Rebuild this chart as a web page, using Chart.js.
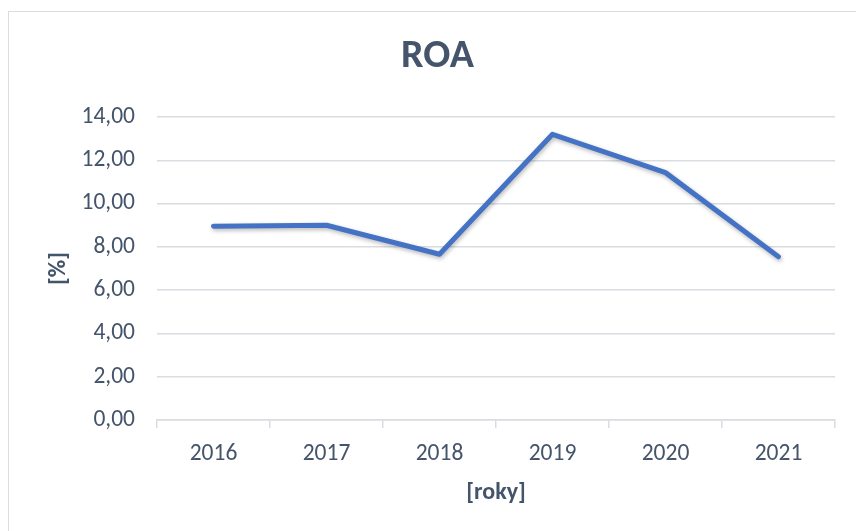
<!DOCTYPE html>
<html>
<head>
<meta charset="utf-8">
<script src="https://cdn.jsdelivr.net/npm/chart.js@4/dist/chart.umd.min.js"></script>
<style>
  html, body { margin: 0; padding: 0; background: #fff; }
  #wrap { position: relative; width: 856px; height: 531px; overflow: hidden; }
  #frame { position: absolute; left: 8px; top: 11px; width: 900px; height: 600px; border: 1.5px solid #D9DCE1; box-sizing: border-box; }
  canvas { position: absolute; left: 0; top: 0; }
</style>
</head>
<body>
<div id="wrap">
  <div id="frame"></div>
  <canvas id="c" width="856" height="531"></canvas>
</div>
<script>
const categories = ['2016', '2017', '2018', '2019', '2020', '2021'];
const roaValues = [8.95, 9.00, 7.66, 13.20, 11.43, 7.54];
const chartTitle = 'ROA';
const xAxisTitle = '[roky]';
const yAxisTitle = '[%]';

const FONT = "Carlito, Calibri, 'Open Sans', sans-serif";
const TEXT = '#44546A';
const GRID = '#D9DCE1';

const shadowPlugin = {
  id: 'lineShadow',
  beforeDatasetsDraw(chart) {
    const ctx = chart.ctx;
    ctx.save();
    ctx.shadowColor = 'rgba(0,0,0,0.28)';
    ctx.shadowBlur = 4;
    ctx.shadowOffsetX = 1;
    ctx.shadowOffsetY = 2;
  },
  afterDatasetsDraw(chart) {
    chart.ctx.restore();
  }
};

new Chart(document.getElementById('c'), {
  type: 'line',
  data: {
    labels: categories,
    datasets: [{
      data: roaValues,
      borderColor: '#4472C4',
      borderWidth: 5,
      borderCapStyle: 'round',
      borderJoinStyle: 'round',
      pointRadius: 0,
      pointHoverRadius: 0,
      tension: 0,
      fill: false
    }]
  },
  options: {
    responsive: false,
    animation: false,
    devicePixelRatio: 1,
    layout: { padding: { left: 40, right: 21, top: 0, bottom: 19.6 } },
    plugins: {
      legend: { display: false },
      tooltip: { enabled: false },
      title: {
        display: true,
        text: chartTitle,
        color: TEXT,
        font: { family: FONT, size: 40, weight: 'bold' },
        padding: { top: 33, bottom: 36 }
      }
    },
    scales: {
      x: {
        offset: true,
        grid: { drawOnChartArea: false, drawTicks: true, tickLength: 8, color: GRID, offset: true, lineWidth: 1.5 },
        border: { display: true, color: GRID, width: 1.5 },
        ticks: { color: TEXT, font: { family: FONT, size: 23.5 }, padding: 12, maxRotation: 0 },
        title: { display: true, text: xAxisTitle, color: TEXT, font: { family: FONT, size: 24, weight: 'bold' }, padding: { top: 4, bottom: 4 } },
        afterFit(scale) { scale.height = 91.4; }
      },
      y: {
        min: 0,
        max: 14,
        ticks: {
          stepSize: 2,
          color: TEXT,
          font: { family: FONT, size: 23.5 },
          padding: 22,
          callback: (v) => Number(v).toFixed(2).replace('.', ',')
        },
        grid: { color: GRID, lineWidth: 1.5, drawTicks: false },
        border: { display: false },
        title: { display: true, text: yAxisTitle, color: TEXT, font: { family: FONT, size: 24, weight: 'bold' }, padding: { top: 4.6, bottom: 0 } },
        afterFit(scale) { scale.width = 117; }
      }
    }
  },
  plugins: [shadowPlugin]
});
</script>
</body>
</html>
